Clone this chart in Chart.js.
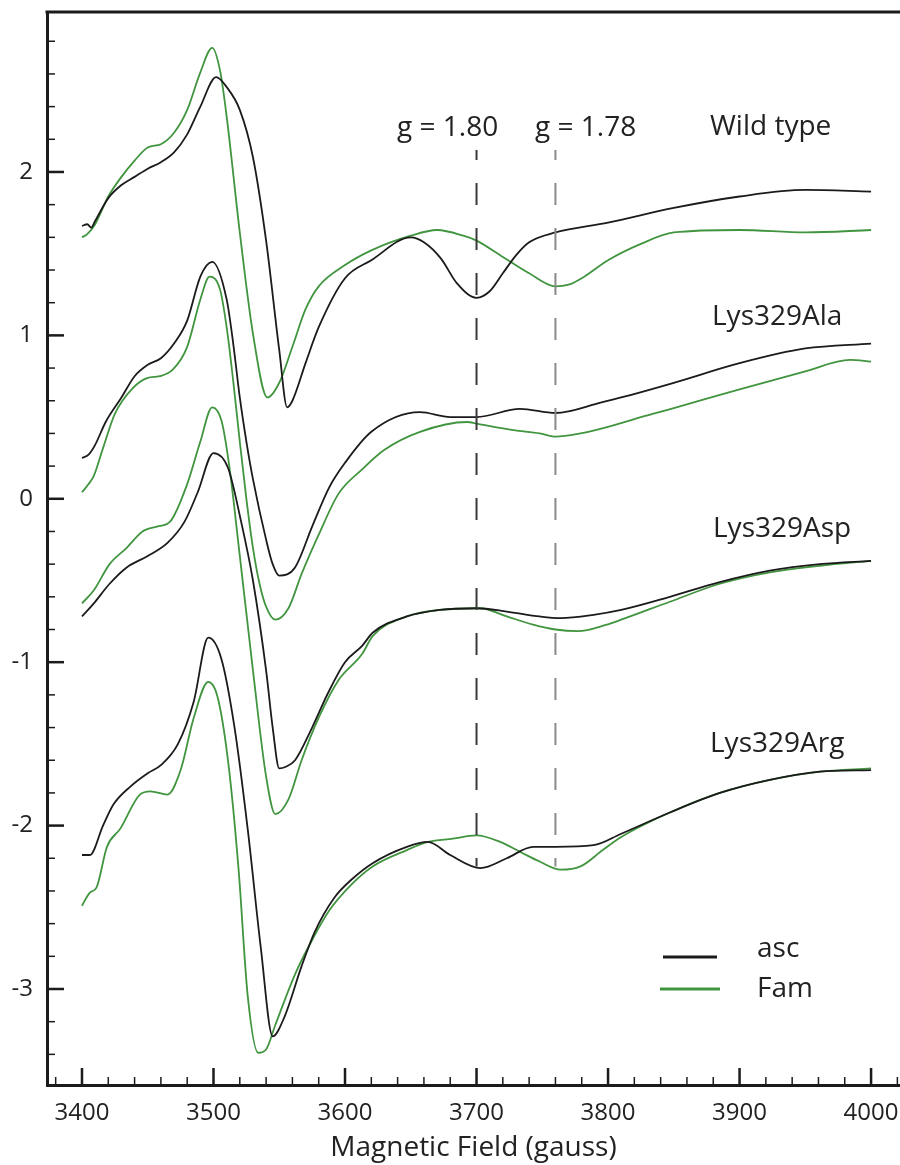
<!DOCTYPE html>
<html>
<head>
<meta charset="utf-8">
<script src="https://cdn.jsdelivr.net/npm/chart.js@4.4.1/dist/chart.umd.min.js"></script>
<style>
  html, body { margin: 0; padding: 0; background: #fff; }
  #wrap { width: 900px; height: 1165px; }
</style>
</head>
<body>
<div id="wrap"><canvas id="epr" width="900" height="1165"></canvas></div>
<script>
// [field (gauss), signal]
const wtAsc = [[3400,1.67],[3404,1.68],[3407,1.66],[3410,1.70],[3420,1.84],[3430,1.92],[3440,1.97],[3450,2.02],[3460,2.06],[3470,2.12],[3480,2.23],[3490,2.40],[3502,2.58],[3510,2.52],[3520,2.38],[3530,2.09],[3540,1.58],[3550,0.91],[3556,0.56],[3560,0.60],[3570,0.83],[3580,1.05],[3600,1.35],[3620,1.46],[3650,1.60],[3660,1.57],[3673,1.47],[3685,1.32],[3700,1.23],[3710,1.27],[3720,1.38],[3730,1.49],[3740,1.57],[3760,1.63],[3800,1.69],[3850,1.78],[3900,1.85],[3950,1.89],[4000,1.88]];
const wtFam = [[3400,1.60],[3404,1.62],[3410,1.68],[3420,1.85],[3430,1.97],[3440,2.07],[3450,2.15],[3460,2.17],[3470,2.24],[3480,2.38],[3490,2.61],[3499,2.76],[3505,2.62],[3510,2.34],[3520,1.63],[3530,1.01],[3541,0.62],[3550,0.71],[3560,0.93],[3570,1.16],[3580,1.30],[3600,1.43],[3620,1.52],[3650,1.61],[3670,1.645],[3690,1.61],[3700,1.58],[3720,1.48],[3740,1.38],[3760,1.30],[3770,1.31],[3780,1.35],[3800,1.46],[3825,1.56],[3850,1.63],[3900,1.645],[3950,1.63],[4000,1.645]];

const alaAsc = [[3400,0.25],[3405,0.27],[3410,0.33],[3418,0.47],[3430,0.62],[3440,0.75],[3450,0.82],[3460,0.86],[3470,0.95],[3480,1.09],[3490,1.36],[3499,1.45],[3510,1.22],[3515,0.95],[3520,0.62],[3525,0.35],[3530,0.12],[3540,-0.25],[3545,-0.40],[3550,-0.47],[3562,-0.42],[3575,-0.17],[3588,0.07],[3600,0.22],[3620,0.41],[3657,0.53],[3680,0.50],[3700,0.50],[3733,0.55],[3760,0.525],[3795,0.59],[3810,0.62],[3850,0.71],[3900,0.83],[3950,0.92],[4000,0.95]];
const alaFam = [[3400,0.04],[3405,0.09],[3409,0.14],[3416,0.31],[3425,0.52],[3439,0.68],[3450,0.74],[3459,0.75],[3469,0.79],[3480,0.93],[3490,1.22],[3497,1.36],[3505,1.28],[3510,1.05],[3515,0.72],[3520,0.35],[3525,0.00],[3530,-0.30],[3535,-0.52],[3540,-0.66],[3547,-0.74],[3557,-0.67],[3567,-0.46],[3580,-0.22],[3595,0.03],[3613,0.18],[3630,0.30],[3657,0.41],[3693,0.47],[3700,0.46],[3728,0.42],[3748,0.40],[3760,0.38],[3779,0.40],[3800,0.44],[3825,0.50],[3850,0.555],[3900,0.67],[3950,0.78],[3984,0.85],[4000,0.84]];

const aspAsc = [[3400,-0.72],[3409,-0.64],[3421,-0.52],[3434,-0.42],[3450,-0.35],[3465,-0.27],[3478,-0.14],[3488,0.04],[3500,0.28],[3511,0.19],[3521,-0.14],[3530,-0.50],[3540,-1.05],[3545,-1.40],[3550,-1.65],[3555,-1.64],[3562,-1.60],[3575,-1.40],[3587,-1.19],[3600,-1.00],[3613,-0.90],[3621,-0.82],[3647,-0.72],[3672,-0.68],[3700,-0.67],[3723,-0.69],[3748,-0.72],[3764,-0.73],[3789,-0.71],[3810,-0.68],[3847,-0.60],[3885,-0.51],[3923,-0.44],[3961,-0.40],[4000,-0.38]];
const aspFam = [[3400,-0.64],[3409,-0.56],[3421,-0.40],[3434,-0.30],[3446,-0.20],[3457,-0.17],[3467,-0.14],[3480,0.09],[3490,0.35],[3499,0.56],[3506,0.48],[3512,0.20],[3520,-0.35],[3530,-1.05],[3540,-1.70],[3547,-1.93],[3557,-1.84],[3567,-1.60],[3580,-1.34],[3595,-1.11],[3613,-0.95],[3621,-0.84],[3647,-0.72],[3672,-0.68],[3703,-0.67],[3723,-0.72],[3743,-0.77],[3760,-0.80],[3777,-0.81],[3799,-0.77],[3810,-0.74],[3847,-0.63],[3885,-0.52],[3923,-0.45],[3961,-0.41],[4000,-0.38]];

const argAsc = [[3400,-2.18],[3406,-2.18],[3416,-2.00],[3424,-1.87],[3437,-1.76],[3450,-1.68],[3460,-1.63],[3473,-1.50],[3485,-1.24],[3496,-0.85],[3506,-0.98],[3516,-1.40],[3526,-2.02],[3536,-2.75],[3545,-3.29],[3554,-3.17],[3567,-2.86],[3577,-2.65],[3592,-2.44],[3605,-2.33],[3621,-2.23],[3647,-2.13],[3663,-2.10],[3680,-2.18],[3703,-2.26],[3723,-2.20],[3743,-2.13],[3760,-2.13],[3789,-2.12],[3810,-2.05],[3847,-1.92],[3885,-1.80],[3923,-1.72],[3961,-1.67],[4000,-1.66]];
const argFam = [[3400,-2.49],[3406,-2.41],[3411,-2.38],[3419,-2.13],[3429,-2.02],[3444,-1.81],[3452,-1.79],[3465,-1.81],[3475,-1.66],[3485,-1.34],[3496,-1.12],[3503,-1.21],[3511,-1.60],[3519,-2.26],[3526,-3.04],[3534,-3.39],[3540,-3.37],[3547,-3.22],[3562,-2.91],[3575,-2.70],[3588,-2.52],[3605,-2.36],[3621,-2.25],[3647,-2.15],[3663,-2.10],[3682,-2.08],[3700,-2.06],[3718,-2.10],[3733,-2.16],[3748,-2.22],[3764,-2.27],[3779,-2.25],[3796,-2.15],[3810,-2.07],[3847,-1.92],[3885,-1.80],[3923,-1.72],[3961,-1.67],[4000,-1.65]];

// g-value markers: field position and vertical extent
const gFields = [3700, 3760];
const gLabels = ['g = 1.80', 'g = 1.78'];
const gSpan = [2.135, -2.25];

const xTickValues = [3400, 3500, 3600, 3700, 3800, 3900, 4000];
const yTickValues = [-3, -2, -1, 0, 1, 2];

const INK = '#1b1b1b';
const GREEN = '#41953f';
const FONT = "'Open Sans', 'DejaVu Sans', sans-serif";

const toPts = arr => arr.map(([x, y]) => ({ x, y }));

function trace(label, pts, color) {
  return {
    label,
    data: toPts(pts),
    borderColor: color,
    borderWidth: 1.8,
    pointRadius: 0,
    fill: false,
    cubicInterpolationMode: 'monotone'
  };
}

function marker(i, color) {
  return {
    label: gLabels[i],
    data: gSpan.map(v => ({ x: gFields[i], y: v })),
    borderColor: color,
    borderWidth: 2,
    borderDash: [22, 23],
    borderDashOffset: 12,
    pointRadius: 0,
    fill: false
  };
}

// keep the plot frame fixed: no extra room for edge labels
function noEdgePadding(s) {
  s.paddingTop = 0;
  s.paddingBottom = 0;
  s.paddingLeft = 0;
  s.paddingRight = 0;
}

// inward tick marks and the top frame line
const innerTicks = {
  id: 'innerTicks',
  afterDraw(chart) {
    const { ctx, chartArea: a, scales: { x, y } } = chart;
    ctx.save();
    ctx.strokeStyle = INK;
    ctx.lineWidth = 3;
    ctx.beginPath();
    ctx.moveTo(a.left - 1.5, a.top);
    ctx.lineTo(a.right, a.top);
    ctx.stroke();
    for (let g = 3380; g <= 4020; g += 20) {
      const major = g % 100 === 0;
      const px = x.getPixelForValue(g);
      ctx.lineWidth = major ? 2.5 : 1.5;
      ctx.beginPath();
      ctx.moveTo(px, a.bottom);
      ctx.lineTo(px, a.bottom - (major ? 17 : 8));
      ctx.stroke();
    }
    for (let i = -17; i <= 14; i++) {
      const major = i % 5 === 0;
      const py = y.getPixelForValue(i / 5);
      ctx.lineWidth = major ? 2.5 : 1.5;
      ctx.beginPath();
      ctx.moveTo(a.left, py);
      ctx.lineTo(a.left + (major ? 17 : 8), py);
      ctx.stroke();
    }
    ctx.restore();
  }
};

// sample names, g labels and the legend
const labelsAndLegend = {
  id: 'labelsAndLegend',
  afterDraw(chart) {
    const { ctx } = chart;
    ctx.save();
    ctx.fillStyle = '#222';
    ctx.font = '28px ' + FONT;
    ctx.textBaseline = 'alphabetic';
    ctx.textAlign = 'left';
    ctx.fillText(gLabels[0], 397, 136);
    ctx.fillText(gLabels[1], 535, 136);
    ctx.fillText('Wild type', 710, 135);
    ctx.fillText('Lys329Ala', 712, 325);
    ctx.fillText('Lys329Asp', 713, 537);
    ctx.fillText('Lys329Arg', 710, 752);

    ctx.lineWidth = 3;
    ctx.strokeStyle = INK;
    ctx.beginPath(); ctx.moveTo(663, 957); ctx.lineTo(717, 957); ctx.stroke();
    ctx.strokeStyle = GREEN;
    ctx.beginPath(); ctx.moveTo(660, 989); ctx.lineTo(720, 989); ctx.stroke();
    ctx.fillText('asc', 757, 957);
    ctx.fillText('Fam', 757, 997);
    ctx.restore();
  }
};

new Chart(document.getElementById('epr'), {
  type: 'line',
  data: {
    datasets: [
      marker(0, '#3a3a3a'),
      marker(1, '#8a8a8a'),
      trace('WT asc', wtAsc, INK),
      trace('WT Fam', wtFam, GREEN),
      trace('Lys329Ala asc', alaAsc, INK),
      trace('Lys329Ala Fam', alaFam, GREEN),
      trace('Lys329Asp asc', aspAsc, INK),
      trace('Lys329Asp Fam', aspFam, GREEN),
      trace('Lys329Arg asc', argAsc, INK),
      trace('Lys329Arg Fam', argFam, GREEN)
    ]
  },
  options: {
    responsive: false,
    animation: false,
    layout: { padding: { top: 12, right: 0, bottom: 0, left: 0 } },
    plugins: { legend: { display: false }, tooltip: { enabled: false } },
    scales: {
      x: {
        type: 'linear',
        min: 3373.4,
        max: 4022,
        grid: { drawOnChartArea: false, drawTicks: false },
        border: { display: true, width: 3, color: INK },
        ticks: {
          stepSize: 100,
          includeBounds: false,
          padding: 14,
          color: '#222',
          font: { family: FONT, size: 24 },
          maxRotation: 0,
          callback: v => xTickValues.includes(v) ? String(v) : ''
        },
        title: {
          display: true,
          text: 'Magnetic Field (gauss)',
          color: '#222',
          font: { family: FONT, size: 28 },
          padding: { top: 0, bottom: 0 }
        },
        afterFit(s) { s.height = 80; noEdgePadding(s); }
      },
      y: {
        type: 'linear',
        min: -3.5875,
        max: 2.979,
        grid: { drawOnChartArea: false, drawTicks: false },
        border: { display: true, width: 3, color: INK },
        ticks: {
          stepSize: 1,
          includeBounds: false,
          padding: 14,
          color: '#222',
          font: { family: FONT, size: 24 },
          callback: v => yTickValues.includes(v) ? String(v) : ''
        },
        afterFit(s) { s.width = 47; noEdgePadding(s); }
      }
    }
  },
  plugins: [innerTicks, labelsAndLegend]
});
</script>
</body>
</html>
